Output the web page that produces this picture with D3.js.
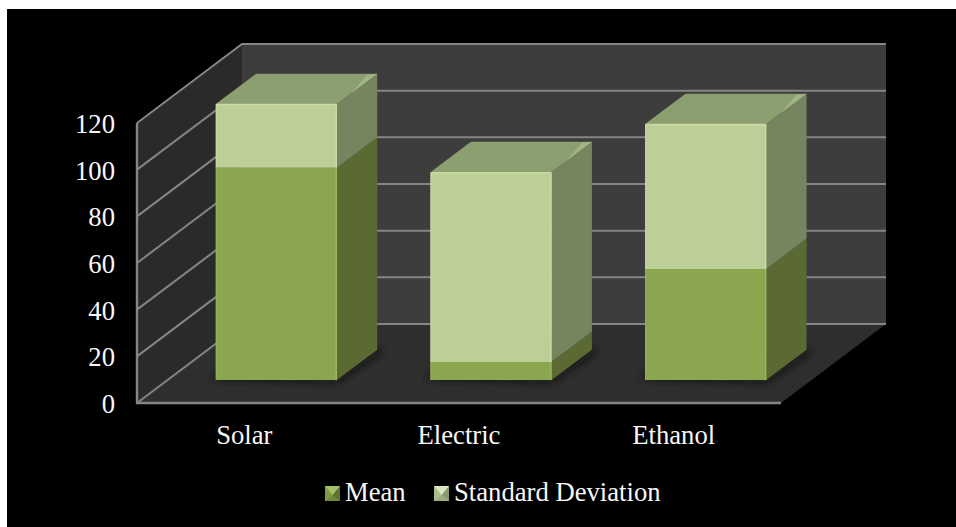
<!DOCTYPE html>
<html>
<head>
<meta charset="utf-8">
<script src="https://cdn.jsdelivr.net/npm/d3@7"></script>
<style>
  html, body { margin: 0; padding: 0; background: #fff; }
  svg { display: block; }
  text { font-family: "Liberation Serif", "Times New Roman", serif; fill: #f8f8f8; }
</style>
</head>
<body>
<svg id="chart" width="956" height="527"></svg>
<script>
const categories = ["Solar", "Electric", "Ethanol"];
const meanValues = [91, 7.7, 47.6];
const sdValues = [27.3, 81.4, 62.1];
const yTicks = [0, 20, 40, 60, 80, 100, 120];
const seriesNames = ["Mean", "Standard Deviation"];

const svg = d3.select("#chart");
const fontSize = 26.67;

// Box geometry: front plane of the plot and the oblique depth vector.
const plot = { left: 137, right: 781, bottom: 403, top: 123 };
const depth = { dx: 105, dy: -79 };
const barFront = 0.29, barDepth = 0.385;

const y = d3.scaleLinear().domain([0, 120]).range([plot.bottom, plot.top]);
const x = d3.scaleBand().domain(categories).range([plot.left, plot.right]).paddingInner(0.436).paddingOuter(0.218);

const project = (px, py, d) => [px + depth.dx * d, py + depth.dy * d];
const poly = pts => pts.map(p => p.join(",")).join(" ");
const lerp = (a, b, t) => [a[0] + (b[0] - a[0]) * t, a[1] + (b[1] - a[1]) * t];

const colors = {
  back: "#3c3c3c", left: "#292929", floor: "#2f2f2f", grid: "#858585",
  mean: { front: "#8aa64f", side: "#5a6b31", edge: "#9db85f" },
  sd: { front: "#bccf97", side: "#75855f", edge: "#c9dca3" },
  top: "#8c9f70", topEdge: "#a3b585"
};

const defs = svg.append("defs");
defs.append("filter").attr("id", "floorShadow")
  .attr("x", "-20%").attr("y", "-20%").attr("width", "140%").attr("height", "140%")
  .append("feGaussianBlur").attr("stdDeviation", 5);
const soft = defs.append("filter").attr("id", "soft");
soft.append("feGaussianBlur").attr("stdDeviation", 0.45);

svg.append("rect").attr("x", 7).attr("y", 9).attr("width", 949).attr("height", 518).attr("fill", "#000");

// Walls and floor
const chart = svg.append("g").attr("filter", "url(#soft)");
const [bl, tl] = [[plot.left, y(0)], [plot.left, y(120)]];
const blB = project(...bl, 1), tlB = project(...tl, 1);
const br = [plot.right, y(0)], brB = project(...br, 1);

chart.append("polygon").attr("points", poly([blB, tlB, [brB[0], tlB[1]], brB])).attr("fill", colors.back);
chart.append("polygon").attr("points", poly([bl, tl, tlB, blB])).attr("fill", colors.left);
chart.append("polygon").attr("points", poly([bl, br, brB, blB])).attr("fill", colors.floor);

// Gridlines run along the left wall and across the back wall
chart.append("g").selectAll("polyline").data(yTicks).join("polyline")
  .attr("points", t => poly([[plot.left, y(t)], project(plot.left, y(t), 1), [brB[0], project(plot.left, y(t), 1)[1]]]))
  .attr("fill", "none").attr("stroke", colors.grid).attr("stroke-width", 2);

chart.append("line").attr("x1", plot.left).attr("x2", plot.left).attr("y1", y(120)).attr("y2", y(0))
  .attr("stroke", colors.grid).attr("stroke-width", 2.4);
chart.append("line").attr("x1", plot.left - 1).attr("x2", plot.right).attr("y1", y(0)).attr("y2", y(0))
  .attr("stroke", colors.grid).attr("stroke-width", 2.4);

// Stacked boxes
const stacks = categories.map((c, i) => ({
  name: c,
  parts: [
    { key: "mean", from: 0, to: meanValues[i] },
    { key: "sd", from: meanValues[i], to: meanValues[i] + sdValues[i] }
  ]
}));
const xShift = 1.5;

const bars = chart.append("g").selectAll("g").data(stacks).join("g");

// Contact shadow on the floor
bars.append("polygon")
  .attr("points", s => {
    const l = x(s.name) + xShift, r = l + x.bandwidth();
    return poly([
      project(l - 8, y(0) - 2, barFront), project(r, y(0) + 2, barFront),
      project(r + 8, y(0), barFront + barDepth), project(l + 20, y(0), barFront + barDepth)
    ]);
  })
  .attr("fill", "#111").attr("opacity", 0.75).attr("filter", "url(#floorShadow)");

bars.each(function (s) {
  const g = d3.select(this);
  const l = x(s.name) + xShift, r = l + x.bandwidth();
  const fp = (px, v) => project(px, y(v), barFront);
  const bp = (px, v) => project(px, y(v), barFront + barDepth);

  s.parts.forEach(p => {
    const c = colors[p.key];
    g.append("polygon").attr("points", poly([fp(r, p.from), bp(r, p.from), bp(r, p.to), fp(r, p.to)])).attr("fill", c.side);
    g.append("polygon").attr("points", poly([fp(l, p.from), fp(r, p.from), fp(r, p.to), fp(l, p.to)])).attr("fill", c.front);
    g.append("line")
      .attr("x1", fp(r, p.from)[0] - 0.5).attr("y1", fp(r, p.from)[1])
      .attr("x2", fp(r, p.to)[0] - 0.5).attr("y2", fp(r, p.to)[1])
      .attr("stroke", c.edge).attr("stroke-width", 1.4);
    g.append("line")
      .attr("x1", fp(l, p.from)[0] + 0.5).attr("y1", fp(l, p.from)[1])
      .attr("x2", fp(l, p.to)[0] + 0.5).attr("y2", fp(l, p.to)[1])
      .attr("stroke", c.edge).attr("stroke-width", 1).attr("opacity", 0.7);
  });

  const total = s.parts[1].to;
  g.append("polygon").attr("points", poly([fp(l, total), fp(r, total), bp(r, total), bp(l, total)])).attr("fill", colors.top);

  // Bevel highlight that widens toward the back corner of the lid
  const backCorner = bp(r, total), frontCorner = fp(r, total);
  g.append("polygon")
    .attr("points", poly([lerp(frontCorner, backCorner, 0.35), backCorner, [backCorner[0] - 10, backCorner[1] + 1]]))
    .attr("fill", colors.topEdge);
  g.append("line")
    .attr("x1", fp(l, total)[0] + 1).attr("y1", fp(l, total)[1] + 0.5)
    .attr("x2", fp(r, total)[0] - 1).attr("y2", fp(r, total)[1] + 0.5)
    .attr("stroke", colors.sd.edge).attr("stroke-width", 1.6);
});

// Value axis labels
const yAxis = svg.append("g").attr("transform", `translate(${plot.left},0.8)`)
  .call(d3.axisLeft(y).tickValues(yTicks).tickSize(0).tickPadding(22).tickFormat(d3.format("d")));
yAxis.select(".domain").remove();
yAxis.selectAll("text").attr("font-size", fontSize).attr("font-family", null).style("fill", "#f8f8f8");
yAxis.attr("font-family", null).attr("font-size", null);

// Category labels
svg.append("g").selectAll("text").data(categories).join("text")
  .attr("x", c => x(c) + x.bandwidth() / 2)
  .attr("y", 444)
  .attr("text-anchor", "middle")
  .attr("font-size", fontSize)
  .text(c => c);

// Legend with bevelled swatches
const legendItems = [
  { name: seriesNames[0], x: 325, textX: 345, c: colors.mean, base: ["#6f8a3a", "#a6c266", "#5c7330", "#7f9a44"] },
  { name: seriesNames[1], x: 434, textX: 454, c: colors.sd, base: ["#9fae82", "#dbe7c4", "#8a9a6f", "#aabb8c"] }
];
const sw = 15, swTop = 486;
const legend = svg.append("g").selectAll("g").data(legendItems).join("g");
legend.each(function (d) {
  const g = d3.select(this);
  const a = [d.x, swTop], b = [d.x + sw, swTop], c = [d.x + sw, swTop + sw], e = [d.x, swTop + sw];
  const m = [d.x + sw / 2, swTop + sw * 0.62];
  g.append("polygon").attr("points", poly([a, b, c, e])).attr("fill", d.c.front);
  g.append("polygon").attr("points", poly([a, b, m])).attr("fill", d.base[1]);
  g.append("polygon").attr("points", poly([e, c, m])).attr("fill", d.base[0]);
  g.append("polygon").attr("points", poly([a, e, m])).attr("fill", d.base[3]);
  g.append("polygon").attr("points", poly([b, c, m])).attr("fill", d.base[2]);
});
legend.append("text").attr("x", d => d.textX).attr("y", 501).attr("font-size", fontSize).text(d => d.name);
</script>
</body>
</html>
